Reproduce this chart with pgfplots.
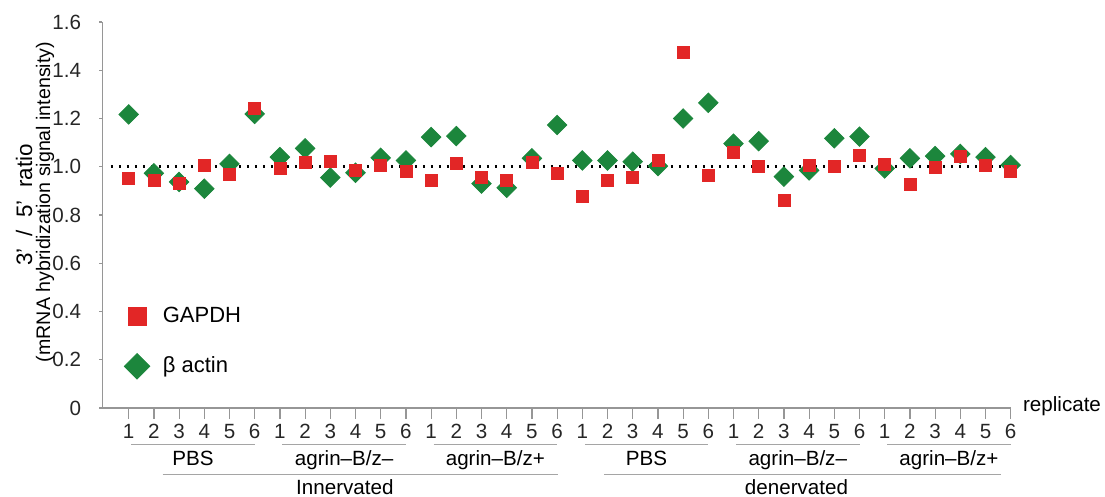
\documentclass[border=0pt]{standalone}
\usepackage{fontspec}
\setmainfont{Liberation Sans}
\usepackage{pgfplots}
\pgfplotsset{compat=1.18}

\definecolor{gred}{RGB}{226,38,38}
\definecolor{agreen}{RGB}{28,134,60}
\definecolor{axgray}{RGB}{150,150,150}
\definecolor{lngray}{RGB}{165,165,165}

% replicate index (0..35), GAPDH and beta actin 3'/5' ratios
\pgfplotstableread{
i  gapdh  actin
0  0.950  1.217
1  0.945  0.973
2  0.930  0.937
3  1.006  0.909
4  0.967  1.012
5  1.242  1.219
6  0.992  1.040
7  1.017  1.076
8  1.021  0.955
9  0.986  0.975
10 1.006  1.037
11 0.979  1.026
12 0.944  1.123
13 1.012  1.127
14 0.955  0.930
15 0.944  0.913
16 1.017  1.035
17 0.971  1.173
18 0.879  1.026
19 0.944  1.026
20 0.955  1.021
21 1.028  1.003
22 1.476  1.200
23 0.964  1.265
24 1.059  1.096
25 1.001  1.106
26 0.861  0.959
27 1.007  0.985
28 1.000  1.118
29 1.049  1.125
30 1.010  0.993
31 0.927  1.035
32 0.997  1.044
33 1.042  1.053
34 1.007  1.040
35 0.979  1.007
}\ratios

\begin{document}
\begin{tikzpicture}[font=\fontsize{10.3}{12}\selectfont]
\begin{axis}[
  at={(0,0)}, anchor=south west,
  scale only axis, width=454.1pt, height=193pt,
  xmin=-1.04, xmax=35, ymin=0, ymax=1.6,
  axis lines=left, axis line style={axgray,-,line width=0.6pt},
  tick align=outside, tick style={axgray,line width=0.6pt},
  xtick style={/pgfplots/major tick length=5.3pt},
  ytick style={/pgfplots/major tick length=1.5pt},
  xtick={0,...,35},
  xticklabels={1,2,3,4,5,6,1,2,3,4,5,6,1,2,3,4,5,6,1,2,3,4,5,6,1,2,3,4,5,6,1,2,3,4,5,6},
  ytick={0,0.2,0.4,0.6,0.8,1.0,1.2,1.4,1.6},
  yticklabels={0,0.2,0.4,0.6,0.8,1.0,1.2,1.4,1.6},
  xticklabel style={anchor=center,yshift=-7.5pt,text=black!85},
  yticklabel style={anchor=east,inner sep=0pt,xshift=-6.25pt,text=black!85},
  clip=false,
  reverse legend,
  legend style={draw=none, fill=none, at={(0.017,0.172)}, anchor=west,
    font=\fontsize{11}{13}\selectfont, row sep=11.5pt, column sep=4.5pt,
    legend cell align=left},
  legend image post style={mark size=4.5pt},
]
\addplot[black, line width=1.3pt, dash pattern=on 1.3pt off 2.7pt, forget plot]
  coordinates {(-0.71,1) (35.25,1)};
\addplot[only marks, mark=square*, mark size=3.45pt, mark options={rotate=45},
  color=agreen] table[x=i, y=actin] {\ratios};
\addlegendentry{β actin}
\addplot[only marks, mark=square*, mark size=3pt, color=gred]
  table[x=i, y=gapdh] {\ratios};
\addlegendentry{GAPDH}

% group underlines and labels
\foreach \g/\lab in {0/{PBS},6/{agrin–B/z–},12/{agrin–B/z+},18/{PBS},24/{agrin–B/z–},30/{agrin–B/z+}}{
  \edef\tmp{\noexpand\draw[lngray,line width=0.6pt] ([yshift=-18.25pt]axis cs:\g+0.1,0) -- ([yshift=-18.25pt]axis cs:\g+5,0);}\tmp
  \edef\tmp{\noexpand\node[anchor=base,inner sep=0pt] at ([yshift=-28.85pt]axis cs:\g+2.55,0) {\lab};}\tmp
}
\draw[lngray,line width=0.6pt] ([yshift=-33.15pt]axis cs:1.35,0) -- ([yshift=-33.15pt]axis cs:17.04,0);
\draw[lngray,line width=0.6pt] ([yshift=-33.15pt]axis cs:18.86,0) -- ([yshift=-33.15pt]axis cs:34.6,0);
\node[anchor=base,inner sep=0pt] at ([yshift=-43.25pt]axis cs:8.58,0) {Innervated};
\node[anchor=base,inner sep=0pt] at ([yshift=-43.25pt]axis cs:26.5,0) {denervated};
\end{axis}
\node[anchor=west,inner sep=0pt] at (460.1pt,1pt) {replicate};
\node[rotate=90,inner sep=0pt,font=\fontsize{11.2}{13}\selectfont] at (-39.25pt,101.5pt) {3’\ \ /\ \ 5’\ \ ratio};
\node[rotate=90,inner sep=0pt,font=\fontsize{9.8}{12}\selectfont] at (-28.75pt,103pt) {(mRNA hybridization signal intensity)};
\pgfresetboundingbox
\useasboundingbox (-51.25pt,-44.5pt) rectangle (501.25pt,204pt);
\end{tikzpicture}
\end{document}
